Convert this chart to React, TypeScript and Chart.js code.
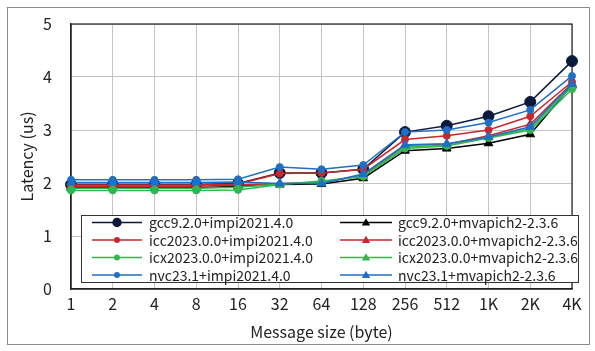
import React, { useEffect, useRef } from "react";
import { Chart, registerables } from "chart.js";

Chart.register(...registerables);

const categories = ["1", "2", "4", "8", "16", "32", "64", "128", "256", "512", "1K", "2K", "4K"];

const gccImpi = [1.97, 1.97, 1.97, 1.97, 1.99, 2.19, 2.19, 2.26, 2.96, 3.08, 3.26, 3.53, 4.3];
const gccMvapich = [1.91, 1.91, 1.91, 1.91, 1.94, 1.97, 1.98, 2.09, 2.61, 2.65, 2.75, 2.92, 3.85];
const iccImpi = [1.96, 1.96, 1.96, 1.96, 1.98, 2.18, 2.19, 2.26, 2.82, 2.89, 3.0, 3.26, 3.91];
const iccMvapich = [1.94, 1.94, 1.94, 1.94, 1.96, 1.99, 2.01, 2.15, 2.71, 2.73, 2.89, 3.11, 3.88];
const icxImpi = [1.86, 1.86, 1.86, 1.86, 1.87, 1.97, 2.04, 2.12, 2.65, 2.7, 2.85, 3.0, 3.77];
const icxMvapich = [1.9, 1.9, 1.9, 1.9, 1.92, 1.98, 2.02, 2.13, 2.68, 2.71, 2.86, 3.03, 3.82];
const nvcImpi = [2.06, 2.06, 2.06, 2.06, 2.07, 2.3, 2.26, 2.34, 2.96, 3.0, 3.14, 3.38, 4.02];
const nvcMvapich = [2.01, 2.01, 2.01, 2.01, 2.02, 1.99, 1.99, 2.17, 2.72, 2.74, 2.87, 3.06, 3.87];

const yTicks = [0, 1, 2, 3, 4, 5];

const FONT = "'Noto Sans CJK JP', 'Noto Sans', sans-serif";

type S = { label: string; data: number[]; color: string; style: string; r: number };

const series: S[] = [
  { label: "gcc9.2.0+impi2021.4.0", data: gccImpi, color: "#0b1a3c", style: "circle", r: 5.5 },
  { label: "gcc9.2.0+mvapich2-2.3.6", data: gccMvapich, color: "#000000", style: "triangle", r: 5 },
  { label: "icc2023.0.0+impi2021.4.0", data: iccImpi, color: "#c8282d", style: "circle", r: 3.5 },
  { label: "icc2023.0.0+mvapich2-2.3.6", data: iccMvapich, color: "#c8282d", style: "triangle", r: 5 },
  { label: "icx2023.0.0+impi2021.4.0", data: icxImpi, color: "#33b552", style: "circle", r: 3.5 },
  { label: "icx2023.0.0+mvapich2-2.3.6", data: icxMvapich, color: "#33b552", style: "triangle", r: 5 },
  { label: "nvc23.1+impi2021.4.0", data: nvcImpi, color: "#1f6fc5", style: "circle", r: 3.5 },
  { label: "nvc23.1+mvapich2-2.3.6", data: nvcMvapich, color: "#1f6fc5", style: "triangle", r: 5 },
];

const frameAndLegend = {
  id: "frameAndLegend",
  beforeDatasetsDraw(chart: any) {
    const { ctx, chartArea } = chart;
    ctx.save();
    ctx.strokeStyle = "#222";
    ctx.lineWidth = 1.2;
    ctx.strokeRect(chartArea.left, chartArea.top, chartArea.right - chartArea.left, chartArea.bottom - chartArea.top);
    ctx.restore();
  },
  afterDraw(chart: any) {
    const { ctx } = chart;
    ctx.save();
    const bx = 81.5, by = 215.5, bw = 497, bh = 67;
    ctx.fillStyle = "#fff";
    ctx.fillRect(bx, by, bw, bh);
    ctx.strokeStyle = "#333";
    ctx.lineWidth = 1;
    ctx.strokeRect(bx, by, bw, bh);
    const rows = [222.5, 240, 257.5, 275];
    const cols = [
      { x0: 92, x1: 142, tx: 149 },
      { x0: 340, x1: 392, tx: 398 },
    ];
    ctx.font = `14px ${FONT}`;
    ctx.textBaseline = "middle";
    series.forEach((s, i) => {
      const col = cols[i % 2];
      const y = rows[Math.floor(i / 2)];
      ctx.strokeStyle = s.color;
      ctx.lineWidth = 1.5;
      ctx.beginPath();
      ctx.moveTo(col.x0, y);
      ctx.lineTo(col.x1, y);
      ctx.stroke();
      ctx.fillStyle = s.color;
      const cx = (col.x0 + col.x1) / 2;
      if (s.style === "circle") {
        ctx.beginPath();
        ctx.arc(cx, y, s.r * 0.85, 0, Math.PI * 2);
        ctx.fill();
      } else {
        const r = 4.2;
        ctx.beginPath();
        ctx.moveTo(cx, y - r);
        ctx.lineTo(cx + r, y + r * 0.7);
        ctx.lineTo(cx - r, y + r * 0.7);
        ctx.closePath();
        ctx.fill();
      }
      ctx.fillStyle = "#222";
      ctx.fillText(s.label, col.tx, y + 0.5);
    });
    ctx.restore();
  },
};

export default function App() {
  const ref = useRef<HTMLCanvasElement>(null);
  useEffect(() => {
    if (!ref.current) return;
    const chart = new Chart(ref.current, {
      type: "line",
      data: {
        labels: categories,
        datasets: series.map((s, i) => ({
          label: s.label,
          data: s.data,
          borderColor: s.color,
          backgroundColor: s.color,
          pointBackgroundColor: s.color,
          pointBorderColor: s.color,
          pointStyle: s.style as any,
          pointRadius: s.r,
          pointBorderWidth: 1,
          borderWidth: 1.5,
          tension: 0,
          order: series.length - i,
        })),
      },
      options: {
        animation: false,
        responsive: false,
        maintainAspectRatio: false,
        layout: { padding: { top: 24, right: 23, left: 0, bottom: 0 } },
        plugins: { legend: { display: false }, tooltip: { enabled: false } },
        scales: {
          x: {
            type: "category",
            offset: false,
            grid: { color: "#c4c4c4", lineWidth: 1, drawTicks: false },
            border: { color: "#222", width: 1.2 },
            ticks: { color: "#222", font: { family: FONT, size: 16 }, padding: 5, maxRotation: 0, autoSkip: false },
            title: { display: true, text: "Message size (byte)", color: "#222", font: { family: FONT, size: 16 }, padding: { top: 0, bottom: 9 } },
            afterFit: (s: any) => { s.height = 62; s.paddingLeft = 0; s.paddingRight = 0; },
          },
          y: {
            min: 0,
            max: 5,
            afterBuildTicks: (s: any) => { s.ticks = yTicks.map((v) => ({ value: v })); },
            grid: { color: "#c4c4c4", lineWidth: 1, drawTicks: false },
            border: { color: "#222", width: 1.2 },
            ticks: { color: "#222", font: { family: FONT, size: 16 }, padding: 19 },
            title: { display: true, text: "Latency (us)", color: "#222", font: { family: FONT, size: 16 }, padding: { top: 17, bottom: 0 } },
            afterFit: (s: any) => { s.width = 71; s.paddingTop = 0; s.paddingBottom = 0; },
          },
        },
      },
      plugins: [frameAndLegend],
    });
    return () => chart.destroy();
  }, []);
  return (
    <div style={{ position: "absolute", left: 0, top: 0, width: 595, height: 351, background: "#fff" }}>
      <canvas ref={ref} width={595} height={351} style={{ position: "absolute", left: 0, top: 0, width: 595, height: 351 }} />
      <div style={{ position: "absolute", left: 7, top: 7, width: 581, height: 336, border: "1px solid #8a8a8a", pointerEvents: "none" }} />
    </div>
  );
}
